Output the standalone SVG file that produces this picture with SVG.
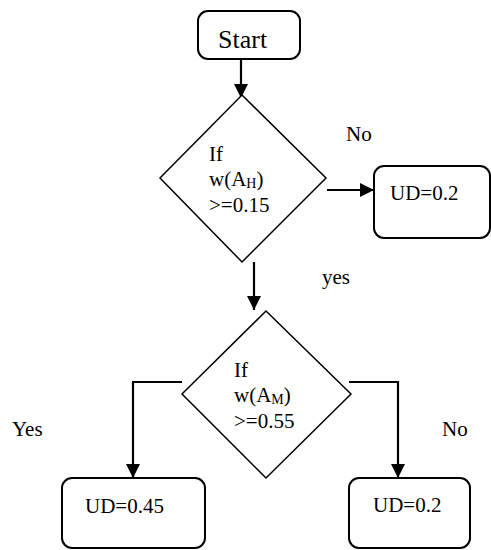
<svg xmlns="http://www.w3.org/2000/svg" width="491" height="550" viewBox="0 0 491 550">
<style>
  .box { fill: #fff; stroke: #000; stroke-width: 2; }
  .dia { fill: #fff; stroke: #000; stroke-width: 1.5; }
  .con { fill: none; stroke: #000; stroke-width: 2.2; }
  .t { font-family: 'Liberation Serif', 'Times New Roman', 'DejaVu Serif', serif; font-size: 21px; fill: #000; }
  .big { font-size: 26px; }
  .sub { font-size: 14px; }
</style>
<defs>
  <marker id="ah" markerUnits="userSpaceOnUse" markerWidth="14" markerHeight="14" viewBox="0 0 14 14" refX="14" refY="7" orient="auto">
    <path d="M0,0 L14,7 L0,14 Z" fill="#000"/>
  </marker>
</defs>
<rect width="491" height="550" fill="#fff"/>
<g id="connectors">
  <line class="con" x1="241" y1="59" x2="241" y2="98" marker-end="url(#ah)"/>
  <line class="con" x1="327" y1="190" x2="374" y2="190" marker-end="url(#ah)"/>
  <line class="con" x1="254" y1="262" x2="254" y2="310" marker-end="url(#ah)"/>
  <polyline class="con" points="182,382 133,382 133,478" marker-end="url(#ah)"/>
  <polyline class="con" points="349,382 398,382 398,478" marker-end="url(#ah)"/>
</g>
<g id="start">
  <rect class="box" x="198" y="11" width="102" height="48" rx="10"/>
  <text class="t big" x="218" y="48">Start</text>
</g>
<g id="decision1">
  <polygon class="dia" points="242,95 326,178 242,262 160,178"/>
  <text class="t" x="209" y="161">If</text>
  <text class="t" x="209" y="186">w(A<tspan class="sub" dy="2">H</tspan><tspan dy="-2">)</tspan></text>
  <text class="t" x="209" y="212">&gt;=0.15</text>
</g>
<g id="ud-top">
  <rect class="box" x="374" y="166" width="116" height="72" rx="10"/>
  <text class="t" x="390" y="200">UD=0.2</text>
</g>
<g id="decision2">
  <polygon class="dia" points="266,311 351,394 266,478 182,394"/>
  <text class="t" x="234" y="377">If</text>
  <text class="t" x="234" y="402">w(A<tspan class="sub" dy="2">M</tspan><tspan dy="-2">)</tspan></text>
  <text class="t" x="234" y="428">&gt;=0.55</text>
</g>
<g id="ud-left">
  <rect class="box" x="62" y="478" width="143" height="70" rx="10"/>
  <text class="t" x="85" y="513">UD=0.45</text>
</g>
<g id="ud-right">
  <rect class="box" x="349" y="478" width="121" height="70" rx="10"/>
  <text class="t" x="373" y="512">UD=0.2</text>
</g>
<g id="labels">
  <text class="t" x="346" y="141">No</text>
  <text class="t" x="322" y="284">yes</text>
  <text class="t" x="12" y="436">Yes</text>
  <text class="t" x="442" y="436">No</text>
</g>
</svg>
